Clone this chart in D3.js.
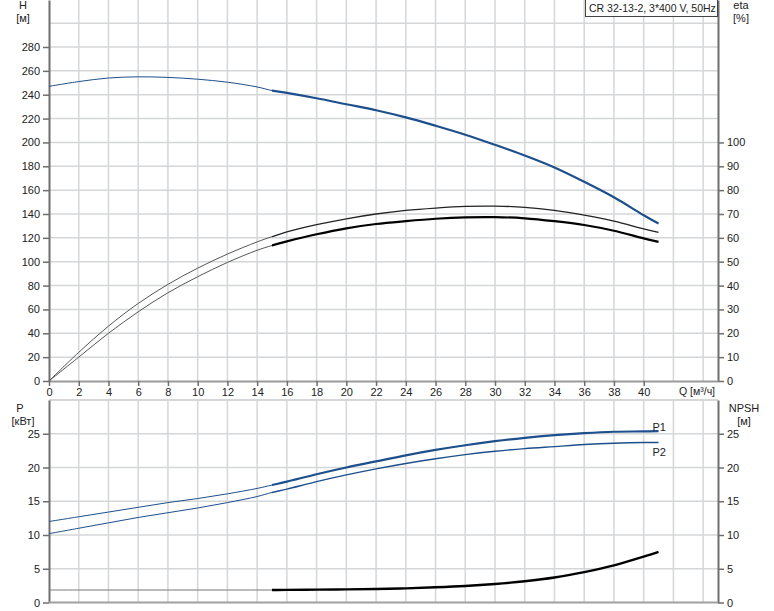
<!DOCTYPE html>
<html><head><meta charset="utf-8">
<script src="https://cdn.jsdelivr.net/npm/d3@7"></script>
<style>body{margin:0;background:#fff}svg{display:block;font-family:"Liberation Sans",Arial,sans-serif}</style>
</head><body><svg id="c" width="774" height="611"></svg>
<script>
// ---- data ----
const qTicks = [0,2,4,6,8,10,12,14,16,18,20,22,24,26,28,30,32,34,36,38,40];
const hTicks = [0,20,40,60,80,100,120,140,160,180,200,220,240,260,280];
const etaTicks = [0,10,20,30,40,50,60,70,80,90,100];
const pTicks = [0,5,10,15,20,25];
const qH = [0,2,4,6,8,10,12,14,15,16,18,20,22,24,26,28,30,32,34,36,38,40,41];
const hVals = [247,251,254,255,254.5,253,250.5,246.5,243.5,241.5,237,232,227,221,214,206.5,198,189,179,167,154,139,132];
const etaUpper = [0,12,23,32.5,40.5,47.3,53.2,58.3,60.5,62.5,65.5,68,70,71.5,72.5,73.2,73.3,72.8,71.5,69.5,67,63.8,62.3];
const etaLower = [0,10,20,29,37,43.7,49.7,54.8,56.8,58.5,61.5,64,65.8,67,68,68.6,68.7,68.2,67,65.4,63,59.8,58.3];
const p1Vals = [12,12.7,13.4,14.1,14.8,15.4,16.1,16.9,17.4,17.9,19,20,20.9,21.8,22.6,23.3,23.9,24.4,24.8,25.1,25.3,25.35,25.4];
const p2Vals = [10.2,11,11.8,12.6,13.3,14,14.8,15.7,16.3,16.8,17.9,18.9,19.8,20.6,21.3,21.9,22.4,22.8,23.1,23.4,23.6,23.7,23.7];
const npshVals = [1.85,1.85,1.85,1.85,1.85,1.85,1.85,1.85,1.85,1.87,1.9,1.95,2.0,2.1,2.25,2.45,2.75,3.15,3.7,4.5,5.5,6.8,7.5];
const splitQ = 15;
const title = "CR 32-13-2, 3*400 V, 50Hz";

// ---- layout ----
const svg = d3.select("#c");
const L = 49, R = 718;
const top1 = 0, bot1 = 381, top2 = 400, bot2 = 602.5;
const x = d3.scaleLinear().domain([0,45]).range([L,R]);
const yH = d3.scaleLinear().domain([0,319.4]).range([bot1,top1]);
const yEta = d3.scaleLinear().domain([0,159.7]).range([bot1,top1]);
const yP = d3.scaleLinear().domain([0,30]).range([bot2,top2]);

const grid = "#d4d6d8", axisC = "#6e6e6e", txt = "#222", blue = "#1c4f8c";

// clip paths
const defs = svg.append("defs");
defs.append("clipPath").attr("id","cl").append("rect").attr("x",0).attr("y",0).attr("width",x(splitQ)).attr("height",611);
defs.append("clipPath").attr("id","cr").append("rect").attr("x",x(splitQ)).attr("y",0).attr("width",774).attr("height",611);

// grids
const gx = d3.range(2,45,2);
svg.append("g").selectAll("line").data(gx).join("line")
  .attr("x1",d=>x(d)).attr("x2",d=>x(d)).attr("y1",top1).attr("y2",bot1)
  .attr("stroke",grid).attr("stroke-width",1.5);
svg.append("g").selectAll("line").data(d3.range(20,320,20)).join("line")
  .attr("x1",L).attr("x2",R).attr("y1",d=>yH(d)).attr("y2",d=>yH(d))
  .attr("stroke",grid).attr("stroke-width",1.5);
svg.append("g").selectAll("line").data(gx).join("line")
  .attr("x1",d=>x(d)).attr("x2",d=>x(d)).attr("y1",top2).attr("y2",bot2)
  .attr("stroke",grid).attr("stroke-width",1.5);
svg.append("g").selectAll("line").data([5,10,15,20,25,30]).join("line")
  .attr("x1",L).attr("x2",R).attr("y1",d=>yP(d)).attr("y2",d=>yP(d))
  .attr("stroke",grid).attr("stroke-width",d=>d===30?2:1.5);

// axes
function styleAxis(g){
  g.select(".domain").attr("stroke",axisC).attr("stroke-width",2);
  g.selectAll(".tick line").attr("stroke",axisC).attr("stroke-width",1.5);
  g.selectAll("text").attr("fill",txt).style("font-size","11px").style("font-family","'Liberation Sans',Arial,sans-serif");
}
svg.append("g").attr("transform",`translate(${L},0)`)
  .call(d3.axisLeft(yH).tickValues(hTicks).tickSize(6).tickSizeOuter(0).tickPadding(3)).call(styleAxis);
svg.append("g").attr("transform",`translate(${R},0)`)
  .call(d3.axisRight(yEta).tickValues(etaTicks).tickSize(6).tickSizeOuter(0).tickPadding(3)).call(styleAxis);
svg.append("g").attr("transform",`translate(0,${bot1})`)
  .call(d3.axisBottom(x).tickValues(qTicks).tickSize(5).tickSizeOuter(0).tickPadding(2)).call(styleAxis)
  .call(g=>g.select(".domain").attr("stroke","#9a9a9a"));
svg.append("g").attr("transform",`translate(${L},0)`)
  .call(d3.axisLeft(yP).tickValues(pTicks).tickSize(6).tickSizeOuter(0).tickPadding(3)).call(styleAxis);
svg.append("g").attr("transform",`translate(${R},0)`)
  .call(d3.axisRight(yP).tickValues(pTicks).tickSize(6).tickSizeOuter(0).tickPadding(3)).call(styleAxis);
svg.append("line").attr("x1",L).attr("x2",R).attr("y1",bot2).attr("y2",bot2).attr("stroke","#a0a0a0").attr("stroke-width",2);

// curves (one smooth path, drawn thin left of split and thick right of it)
function draw(vals, yS, thinC, thickC, thinW, thickW){
  const pts = qH.map((q,i)=>[q,vals[i]]);
  const line = d3.line().x(d=>x(d[0])).y(d=>yS(d[1])).curve(d3.curveCatmullRom.alpha(0.5));
  const d = line(pts);
  svg.append("path").attr("d",d).attr("clip-path","url(#cl)")
    .attr("fill","none").attr("stroke",thinC).attr("stroke-width",thinW);
  svg.append("path").attr("d",d).attr("clip-path","url(#cr)")
    .attr("fill","none").attr("stroke",thickC).attr("stroke-width",thickW);
}
draw(hVals, yH, blue, blue, 1, 2.2);
draw(etaUpper, yEta, "#555", "#222", 1, 1.3);
draw(etaLower, yEta, "#555", "#000", 1, 2.2);
draw(p1Vals, yP, blue, blue, 1, 2.2);
draw(p2Vals, yP, blue, blue, 1, 1.4);
draw(npshVals, yP, "#777", "#000", 1, 2.4);

// labels
function t(s,xx,yy,anchor,fs){return svg.append("text").attr("x",xx).attr("y",yy).attr("text-anchor",anchor||"middle")
  .attr("fill",txt).style("font-size",(fs||11)+"px").text(s);}
t("H",23,9); t("[м]",23,22);
t("eta",741,9); t("[%]",741,22);
t("P",20,412); t("[кВт]",23,425);
t("NPSH",744,412); t("[м]",744,425);
t("Q [м³/ч]",679,395,"start",10.5);
t("P1",x(41)-6,431,"start"); t("P2",x(41)-6,456,"start");
svg.append("rect").attr("x",585.5).attr("y",-1).attr("width",132).attr("height",17.5)
  .attr("fill","#fff").attr("stroke","#444").attr("stroke-width",1);
t(title,589,12,"start",10.5);
</script></body></html>
